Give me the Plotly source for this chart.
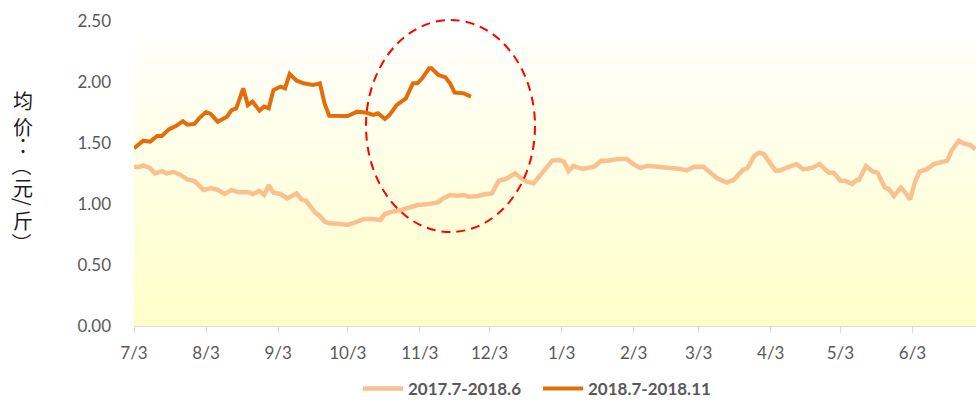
import plotly.graph_objects as go
import pandas as pd

# ---------------- data ----------------
dates_2017 = [
    "2017-07-03", "2017-07-05", "2017-07-07", "2017-07-10", "2017-07-12", "2017-07-15", "2017-07-17",
    "2017-07-20", "2017-07-23", "2017-07-26", "2017-07-29", "2017-07-31", "2017-08-02", "2017-08-05",
    "2017-08-08", "2017-08-11", "2017-08-14", "2017-08-17", "2017-08-21", "2017-08-23", "2017-08-26",
    "2017-08-28", "2017-08-30", "2017-09-01", "2017-09-04", "2017-09-07", "2017-09-11", "2017-09-13",
    "2017-09-15", "2017-09-19", "2017-09-21", "2017-09-23", "2017-09-25", "2017-09-30", "2017-10-03",
    "2017-10-06", "2017-10-10", "2017-10-14", "2017-10-17", "2017-10-19", "2017-10-22", "2017-10-26",
    "2017-10-29", "2017-11-02", "2017-11-06", "2017-11-09", "2017-11-11", "2017-11-13", "2017-11-16",
    "2017-11-19", "2017-11-22", "2017-11-24", "2017-11-28", "2017-12-01", "2017-12-04", "2017-12-07",
    "2017-12-10", "2017-12-13", "2017-12-14", "2017-12-16", "2017-12-19", "2017-12-22", "2017-12-25",
    "2017-12-28", "2017-12-30", "2018-01-02", "2018-01-04", "2018-01-06", "2018-01-08", "2018-01-12",
    "2018-01-15", "2018-01-17", "2018-01-20", "2018-01-23", "2018-01-27", "2018-01-31", "2018-02-03",
    "2018-02-06", "2018-02-09", "2018-02-13", "2018-02-19", "2018-02-23", "2018-02-26", "2018-03-01",
    "2018-03-05", "2018-03-08", "2018-03-11", "2018-03-15", "2018-03-18", "2018-03-22", "2018-03-24",
    "2018-03-27", "2018-03-29", "2018-03-31", "2018-04-03", "2018-04-05", "2018-04-07", "2018-04-13",
    "2018-04-14", "2018-04-17", "2018-04-21", "2018-04-24", "2018-04-26", "2018-04-28", "2018-04-30",
    "2018-05-03", "2018-05-05", "2018-05-08", "2018-05-10", "2018-05-11", "2018-05-14", "2018-05-17",
    "2018-05-19", "2018-05-22", "2018-05-24", "2018-05-26", "2018-05-29", "2018-05-30", "2018-06-02",
    "2018-06-04", "2018-06-06", "2018-06-09", "2018-06-12", "2018-06-15", "2018-06-18", "2018-06-20",
    "2018-06-23", "2018-06-25", "2018-06-28", "2018-06-30",
]
price_2017 = [
    1.306, 1.301, 1.317, 1.293, 1.251, 1.270, 1.251,
    1.262, 1.238, 1.202, 1.189, 1.148, 1.115, 1.128,
    1.117, 1.082, 1.115, 1.096, 1.098, 1.080, 1.107,
    1.074, 1.153, 1.093, 1.082, 1.046, 1.087, 1.038,
    1.027, 0.929, 0.902, 0.855, 0.842, 0.836, 0.828,
    0.847, 0.877, 0.877, 0.869, 0.918, 0.937, 0.951,
    0.970, 0.992, 0.997, 1.011, 1.014, 1.046, 1.074,
    1.068, 1.074, 1.060, 1.066, 1.080, 1.087, 1.191,
    1.205, 1.238, 1.251, 1.219, 1.183, 1.170, 1.238,
    1.320, 1.355, 1.361, 1.347, 1.270, 1.311, 1.287,
    1.293, 1.306, 1.355, 1.355, 1.369, 1.369, 1.325,
    1.295, 1.314, 1.306, 1.303, 1.287, 1.276, 1.306,
    1.306, 1.257, 1.210, 1.175, 1.197, 1.279, 1.295,
    1.396, 1.421, 1.410, 1.320, 1.275, 1.275, 1.328,
    1.328, 1.284, 1.298, 1.328, 1.293, 1.257, 1.257,
    1.191, 1.191, 1.164, 1.197, 1.197, 1.311, 1.265,
    1.257, 1.137, 1.120, 1.066, 1.134, 1.115, 1.038,
    1.175, 1.265, 1.284, 1.325, 1.342, 1.355, 1.443,
    1.519, 1.497, 1.484, 1.448,
]

dates_2018 = [
    "2018-07-03", "2018-07-07", "2018-07-10", "2018-07-13", "2018-07-15", "2018-07-18", "2018-07-21",
    "2018-07-24", "2018-07-26", "2018-07-29", "2018-07-31", "2018-08-03", "2018-08-05", "2018-08-08",
    "2018-08-12", "2018-08-14", "2018-08-16", "2018-08-19", "2018-08-21", "2018-08-23", "2018-08-26",
    "2018-08-28", "2018-08-30", "2018-09-01", "2018-09-04", "2018-09-06", "2018-09-08", "2018-09-11",
    "2018-09-14", "2018-09-18", "2018-09-21", "2018-09-23", "2018-09-25", "2018-09-30", "2018-10-03",
    "2018-10-07", "2018-10-11", "2018-10-14", "2018-10-16", "2018-10-19", "2018-10-21", "2018-10-24",
    "2018-10-27", "2018-10-28", "2018-10-31", "2018-11-02", "2018-11-04", "2018-11-07", "2018-11-08",
    "2018-11-11", "2018-11-14", "2018-11-16", "2018-11-18", "2018-11-22", "2018-11-25",
]
price_2018 = [
    1.457, 1.519, 1.511, 1.557, 1.557, 1.612, 1.639,
    1.678, 1.650, 1.656, 1.702, 1.754, 1.738, 1.675,
    1.716, 1.770, 1.784, 1.948, 1.811, 1.839, 1.765,
    1.798, 1.784, 1.934, 1.962, 1.948, 2.066, 2.011,
    1.989, 1.975, 1.989, 1.825, 1.724, 1.724, 1.721,
    1.757, 1.748, 1.730, 1.743, 1.697, 1.730, 1.811,
    1.852, 1.866, 1.989, 1.989, 2.030, 2.112, 2.112,
    2.057, 2.039, 1.989, 1.913, 1.907, 1.880,
]

tick_dates = ["2017-07-03", "2017-08-03", "2017-09-03", "2017-10-03", "2017-11-03", "2017-12-03",
              "2018-01-03", "2018-02-03", "2018-03-03", "2018-04-03", "2018-05-03", "2018-06-03"]
tick_labels = ["7/3", "8/3", "9/3", "10/3", "11/3", "12/3", "1/3", "2/3", "3/3", "4/3", "5/3", "6/3"]
y_ticks = [0, 0.5, 1.0, 1.5, 2.0, 2.5]
y_labels = ["0.00", "0.50", "1.00", "1.50", "2.00", "2.50"]

series_names = ["2017.7-2018.6", "2018.7-2018.11"]
# y-axis title 均价：（元/斤）, written top-to-bottom
title_chars = ["均", "价", "：", "（", "元", "/", "斤", "）"]

# ---------------- figure ----------------
x_2018_on_axis = pd.to_datetime(dates_2018) - pd.DateOffset(years=1)

fig = go.Figure()
fig.add_trace(go.Scatter(
    x=pd.to_datetime(dates_2017), y=price_2017, mode="lines", name=series_names[0],
    line=dict(color="#FAC090", width=4.5),
))
fig.add_trace(go.Scatter(
    x=x_2018_on_axis, y=price_2018, mode="lines", name=series_names[1],
    line=dict(color="#E46C0A", width=4),
))

L, R, T, B = 134, 0, 21, 75
PW, PH = 976 - L - R, 401 - T - B

# gradient plot background (white top -> pale yellow bottom)
shapes = []
n_bands = 60
top = (255, 255, 255)
bot = (255, 255, 200)
for i in range(n_bands):
    t = (i + 0.5) / n_bands
    c = tuple(round(bot[k] + (top[k] - bot[k]) * t) for k in range(3))
    shapes.append(dict(
        type="rect", xref="paper", yref="paper", x0=0, x1=1,
        y0=i / n_bands, y1=(i + 1) / n_bands + 0.002,
        fillcolor="rgb(%d,%d,%d)" % c, line=dict(width=0), layer="below",
    ))
# red dashed ellipse highlighting
shapes.append(dict(
    type="circle", xref="paper", yref="paper",
    x0=(366 - L) / PW, x1=(535 - L) / PW, y0=(326 - 232) / PH, y1=(326 - 20) / PH,
    line=dict(color="#FF0000", width=2, dash="9px,6px"),
    fillcolor="rgba(0,0,0,0)", layer="above",
))

# y-axis title characters stacked vertically (brackets and slash turned as in vertical writing)
title_y_px = [100, 126, 145, 166, 187, 202, 220, 243]
title_rot = [0, 0, 0, 90, 0, 90, 0, 90]
title_font = ["Noto Sans CJK SC", "Noto Sans CJK SC", "Noto Sans CJK JP", "Noto Sans CJK SC",
              "Noto Sans CJK SC", "Noto Sans CJK SC", "Noto Sans CJK SC", "Noto Sans CJK SC"]
annotations = []
for ch, py, rot, fam in zip(title_chars, title_y_px, title_rot, title_font):
    annotations.append(dict(
        text=ch, xref="paper", yref="paper",
        x=(23 - L) / PW, y=(326 - py) / PH,
        xanchor="center", yanchor="middle", showarrow=False, textangle=rot,
        font=dict(family=fam, size=20, color="#1a1a1a"),
    ))

fig.update_layout(
    width=976, height=401,
    margin=dict(l=L, r=R, t=T, b=B, autoexpand=False),
    paper_bgcolor="white",
    plot_bgcolor="rgba(0,0,0,0)",
    shapes=shapes,
    annotations=annotations,
    font=dict(family="Lato, Liberation Sans, sans-serif", color="#595959"),
    showlegend=True,
    legend=dict(
        orientation="h", xref="container", yref="container",
        x=538 / 976, y=0.03, xanchor="center", yanchor="middle",
        font=dict(size=17, color="#595959", family="Lato, Liberation Sans, sans-serif", weight="bold"),
        bgcolor="rgba(0,0,0,0)", itemwidth=40, tracegroupgap=0, entrywidth=125,
    ),
    xaxis=dict(
        range=["2017-07-03", "2018-06-30 08:00"],
        tickvals=pd.to_datetime(tick_dates), ticktext=tick_labels,
        showgrid=False, zeroline=False,
        showline=True, linecolor="#D9D9D9", linewidth=1,
        ticks="outside", ticklen=6, tickcolor="#D9D9D9", tickwidth=1,
        tickfont=dict(size=17, color="#595959"),
        ticklabelstandoff=6,
    ),
    yaxis=dict(
        range=[0, 2.5], tickvals=y_ticks, ticktext=y_labels,
        showgrid=False, zeroline=False, showline=False,
        tickfont=dict(size=17, color="#595959"),
        ticklabelstandoff=22,
    ),
)

fig.write_html(
    "out.html",
    config={"displayModeBar": False},
    post_script="document.body.style.margin='0';document.body.style.padding='0';",
)
